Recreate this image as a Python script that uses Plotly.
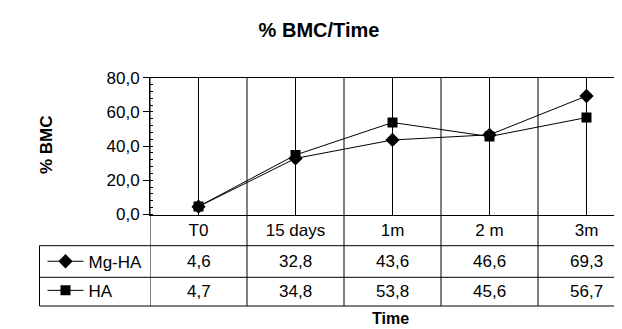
import plotly.graph_objects as go

# ---- data ----
categories = ["T0", "15 days", "1m", "2 m", "3m"]
mg_ha = [4.6, 32.8, 43.6, 46.6, 69.3]
ha = [4.7, 34.8, 53.8, 45.6, 56.7]
series_names = ["Mg-HA", "HA"]
y_ticks = [0, 20, 40, 60, 80]

W, H = 622, 329
OFF = 8  # page body margin of the browser
FONT = "Liberation Sans, Arial, sans-serif"

def px(x):
    return (x - OFF) / W

def py(y):
    return 1 - (y - OFF) / H

# layout geometry (reference viewport pixels)
plot_left, plot_top, plot_bottom = 150, 77.7, 214.5
cat_w = 97.0
row_lines = [245.7, 277.3, 306.0]
table_left = 39.5

n = len(categories)
x_idx = list(range(n))
x_end = -0.5 + (W + OFF - plot_left) / cat_w

fig = go.Figure()
fig.add_trace(go.Scatter(
    x=x_idx, y=mg_ha, name=series_names[0], mode="lines+markers",
    line=dict(color="black", width=1),
    marker=dict(symbol="diamond", size=11, color="black"),
    legendgroup="a",
))
fig.add_trace(go.Scatter(
    x=x_idx, y=ha, name=series_names[1], mode="lines+markers",
    line=dict(color="black", width=1),
    marker=dict(symbol="square", size=10, color="black"),
    legendgroup="b",
))

shapes = []
for k in range(n + 1):
    xb = k - 0.5
    if xb > x_end:
        break
    shapes.append(dict(type="line", xref="x", yref="paper", x0=xb, x1=xb,
                       y0=py(row_lines[-1]), y1=py(plot_top),
                       line=dict(color="black", width=1)))
for yl in row_lines:
    shapes.append(dict(type="line", xref="paper", yref="paper", x0=px(table_left), x1=1,
                       y0=py(yl), y1=py(yl), line=dict(color="black", width=1)))
shapes.append(dict(type="line", xref="paper", yref="paper", x0=px(table_left), x1=px(table_left),
                   y0=py(row_lines[0]), y1=py(row_lines[-1]), line=dict(color="black", width=1)))
shapes.append(dict(type="line", xref="paper", yref="paper", x0=px(621.5), x1=px(621.5),
                   y0=py(plot_bottom), y1=py(row_lines[-1]), line=dict(color="black", width=1)))

annotations = []
row_centers = [(row_lines[0] + row_lines[1]) / 2, (row_lines[1] + row_lines[2]) / 2]
for vals, yc in zip([mg_ha, ha], row_centers):
    for i, v in enumerate(vals):
        annotations.append(dict(x=i, y=py(yc), xref="x", yref="paper",
                                text=f"{v:.1f}".replace(".", ","), showarrow=False,
                                font=dict(family=FONT, size=17, color="black"),
                                xanchor="center", yanchor="middle"))
annotations.append(dict(x=px(47), y=py(145), xref="paper", yref="paper", text="<b>% BMC</b>",
                        textangle=-90, showarrow=False, xanchor="center", yanchor="middle",
                        font=dict(family=FONT, size=17, color="black")))
annotations.append(dict(x=px(391), y=py(318), xref="paper", yref="paper", text="<b>Time</b>",
                        showarrow=False, xanchor="center", yanchor="middle",
                        font=dict(family=FONT, size=16, color="black")))

fig.update_layout(
    width=W, height=H,
    margin=dict(l=0, r=0, t=0, b=0),
    paper_bgcolor="white", plot_bgcolor="white",
    separators=",.",
    title=dict(text="<b>% BMC/Time</b>", x=px(319), xanchor="center",
               y=py(30), yanchor="middle", yref="container", xref="container",
               font=dict(family=FONT, size=20, color="black")),
    xaxis=dict(
        domain=[px(plot_left), 1], range=[-0.5, x_end],
        tickmode="array", tickvals=x_idx, ticktext=categories,
        showgrid=True, gridcolor="black", gridwidth=1,
        showline=True, linecolor="black", linewidth=1, mirror=True,
        ticks="", zeroline=False, automargin=False,
        tickfont=dict(family=FONT, size=17, color="black"),
    ),
    yaxis=dict(
        domain=[py(plot_bottom), py(plot_top)], range=[0, 80],
        tickmode="array", tickvals=y_ticks, tickformat=".1f",
        showgrid=False, zeroline=False,
        showline=True, linecolor="black", linewidth=1,
        ticks="outside", ticklen=6, tickcolor="black",
        minor=dict(dtick=4, ticks="inside", ticklen=3, tickcolor="black", showgrid=False),
        automargin=False,
        tickfont=dict(family=FONT, size=17, color="black"),
    ),
    showlegend=True,
    legend=dict(x=px(42.5), y=py(row_lines[0] - 2), xanchor="left", yanchor="top",
                tracegroupgap=4, itemwidth=36, bgcolor="rgba(0,0,0,0)",
                font=dict(family=FONT, size=17, color="black")),
    shapes=shapes,
    annotations=annotations,
)

fig.write_html("out.html")
